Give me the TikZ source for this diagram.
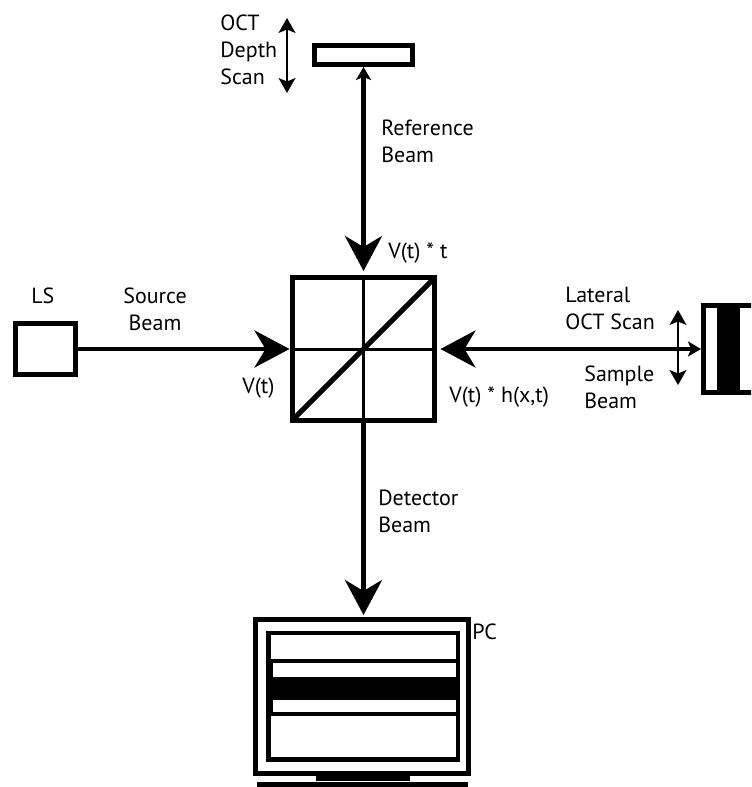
\documentclass[tikz,border=0pt]{standalone}
\usepackage{fontspec}
\setmainfont{PT Sans}
\usetikzlibrary{positioning,arrows.meta}

\begin{document}
\begin{tikzpicture}
            [x=0.02cm,y=-0.02cm,
             bigtip/.tip={Stealth[length=0.7cm,width=0.74cm,inset=0.22cm]},
             smalltip/.tip={Stealth[length=0.26cm,width=0.3cm,inset=0.06cm]},
             scantip/.tip={Stealth[length=0.3cm,width=0.34cm,inset=0.07cm]},
             optic/.style={draw, line width=0.1cm, fill=white, inner sep=0pt},
             beam/.style={line width=0.09cm},
             scan/.style={line width=0.03cm, {scantip}-{scantip}},
             lbl/.style={align=left, inner sep=0pt, font=\fontsize{12.5}{15.4}\selectfont}]
            \clip (0,0) rectangle (751,787);

            % optics
            \node[optic, minimum width=1.98cm, minimum height=0.38cm] (mirror) at (363.5,55) {};
            \node[optic, minimum size=2.86cm] (cube) at (363.5,349) {};
            \node[optic, minimum width=1.2cm, minimum height=1.04cm] (ls) at (45.5,349) {};
            \node[optic, minimum width=1.05cm, minimum height=1.76cm] (sample) at (729.75,349) {};
            \node[optic, minimum width=4.26cm, minimum height=3.08cm] (pc) at (362,696.5) {};

            % beam splitter
            \draw[line width=0.06cm] (cube.north) -- (cube.south) (cube.west) -- (cube.east);
            \draw[line width=0.1cm, shorten <=0.07cm, shorten >=0.07cm] (cube.south west) -- (cube.north east);

            % sample
            \fill (717,306) rectangle (740,392);

            % screen
            \fill (266,631) rectangle (460,762);
            \fill[white] (271,635) rectangle (456,659);
            \fill[white] (273,663) rectangle (456,677);
            \fill[white] (273,700) rectangle (456,712);
            \fill[white] (271,716) rectangle (456,757);
            \fill (316,774) rectangle (410,781);
            \fill (257,782) rectangle (468,790);

            % beams
            \draw[beam, {smalltip}-{bigtip}, shorten >=0.08cm] (mirror) -- (cube);
            \draw[beam, -{bigtip}] (ls) -- (cube);
            \draw[beam, {bigtip}-{smalltip}, shorten <=0.06cm] (cube) -- (sample);
            \draw[beam, -{bigtip}, shorten >=0.04cm] (cube) -- (cube |- pc.north);

            % scans
            \coordinate (d1) at (287,18);
            \coordinate (d2) at (287,93);
            \coordinate (s1) at (678,310);
            \coordinate (s2) at (678,385);
            \draw[scan] (d1) -- (d2);
            \draw[scan] (s1) -- (s2);

            % labels
            \node[lbl, anchor=west] (depth) at (220,50) {OCT\\Depth\\Scan};
            \node[lbl, anchor=west] (refbeam) at (381,141) {Reference\\Beam};
            \node[lbl, anchor=west] (vref) at (388,253) {V(t) * t};
            \node[lbl, anchor=west] (lslbl) at (31,296) {LS};
            \node[lbl, align=center] (srcbeam) at (155,309) {Source\\Beam};
            \node[lbl, anchor=west] (vsrc) at (242,388) {V(t)};
            \node[lbl, anchor=west] (lateral) at (565,308) {Lateral\\OCT Scan};
            \node[lbl, anchor=west] (smpbeam) at (584,387) {Sample\\Beam};
            \node[lbl, anchor=west] (vsmp) at (449,397) {V(t) * h(x,t)};
            \node[lbl, anchor=west] (detbeam) at (378,511) {Detector\\Beam};
            \node[lbl, anchor=west] (pclbl) at (472,632) {PC};
          \end{tikzpicture}
\end{document}
